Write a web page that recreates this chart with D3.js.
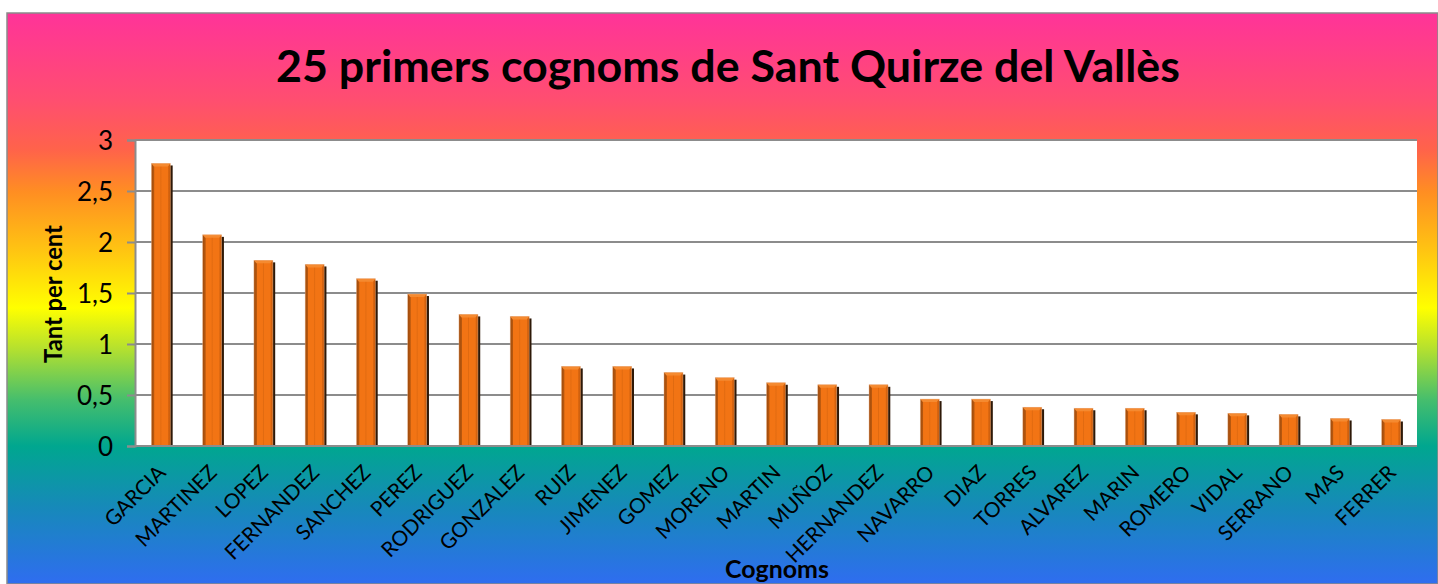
<!DOCTYPE html>
<html><head><meta charset="utf-8">
<script src="https://cdn.jsdelivr.net/npm/d3@7/dist/d3.min.js"></script>
<style>html,body{margin:0;padding:0;background:#fff;}svg{display:block;}</style>
</head><body>
<script>
const categories = ["GARCIA","MARTINEZ","LOPEZ","FERNANDEZ","SANCHEZ","PEREZ","RODRIGUEZ","GONZALEZ","RUIZ","JIMENEZ","GOMEZ","MORENO","MARTIN","MUÑOZ","HERNANDEZ","NAVARRO","DIAZ","TORRES","ALVAREZ","MARIN","ROMERO","VIDAL","SERRANO","MAS","FERRER"];
const values = [2.77,2.07,1.82,1.78,1.64,1.49,1.29,1.27,0.78,0.78,0.72,0.67,0.62,0.60,0.60,0.46,0.46,0.38,0.37,0.37,0.33,0.32,0.31,0.27,0.26];
const yTicks = [0,0.5,1,1.5,2,2.5,3];
const yTickLabels = ["0","0,5","1","1,5","2","2,5","3"];
const title = "25 primers cognoms de Sant Quirze del Vallès";
const yTitle = "Tant per cent";
const xTitle = "Cognoms";

const W = 1438, H = 584;
const FONT = "Lato, 'Open Sans', sans-serif";
const svg = d3.select("body").append("svg").attr("width", W).attr("height", H);
const defs = svg.append("defs");

function fit(sel, base, target) {
  sel.attr("font-size", base);
  const w = sel.node().getComputedTextLength();
  sel.attr("font-size", base * target / w);
  return base * target / w;
}

// background gradient
const bg = defs.append("linearGradient").attr("id","bg").attr("gradientUnits","userSpaceOnUse")
  .attr("x1",0).attr("y1",13).attr("x2",0).attr("y2",584);
const stops = [[13,"#FF3399"],[100,"#FF4E70"],[150,"#FF634A"],[192,"#FF8E22"],[250,"#FFC412"],[308,"#FFFF00"],[348,"#B6E12E"],[400,"#45BE6D"],[446,"#00A78F"],[505,"#168AB8"],[584,"#2F6DF0"]];
stops.forEach(([y,c]) => bg.append("stop").attr("offset", ((y-13)/(584-13))).attr("stop-color", c));

// bar body gradient (horizontal bevel)
const bb = defs.append("linearGradient").attr("id","barg").attr("x1",0).attr("x2",1).attr("y1",0).attr("y2",0);
[[0,"#9E4A0C"],[0.14,"#B8580E"],[0.17,"#F27414"],[0.45,"#F27414"],[0.5,"#E06A10"],[0.55,"#F27414"],[0.86,"#F27414"],[0.9,"#D8650F"],[1,"#C85C0E"]]
  .forEach(([o,c]) => bb.append("stop").attr("offset",o).attr("stop-color",c));

svg.append("rect").attr("x",7).attr("y",13).attr("width",W-7).attr("height",H-13)
  .attr("fill","url(#bg)").attr("stroke","#8a8a8a").attr("stroke-width",1.5);

const m = {left:135, right:1417, top:140, bottom:446};
const x = d3.scaleBand().domain(categories).range([m.left, m.right]).paddingInner(0.63).paddingOuter(0.32);
const y = d3.scaleLinear().domain([0,3]).range([m.bottom, m.top]);

svg.append("rect").attr("x",m.left).attr("y",m.top).attr("width",m.right-m.left).attr("height",m.bottom-m.top).attr("fill","#fff");

// gridlines
svg.append("g").selectAll("line").data(yTicks.slice(1)).join("line")
  .attr("x1",m.left).attr("x2",m.right).attr("y1",d=>y(d)).attr("y2",d=>y(d))
  .attr("stroke","#8c8c8c").attr("stroke-width",2);

// y axis
const yAxis = d3.axisLeft(y).tickValues(yTicks).tickFormat((d,i)=>yTickLabels[i]).tickSize(8).tickPadding(14);
const ga = svg.append("g").attr("transform",`translate(${m.left},0)`).call(yAxis);
ga.select(".domain").attr("stroke","#8c8c8c").attr("stroke-width",2);
ga.selectAll(".tick line").attr("stroke","#8c8c8c").attr("stroke-width",2);
ga.selectAll(".tick text").attr("font-family",FONT).attr("font-size",26).attr("fill","#000").attr("dy","0.36em");

// bars
const bars = svg.append("g");
const bw = x.bandwidth();
categories.forEach((c,i) => {
  const x0 = x(c), y0 = y(values[i]), h = m.bottom - y0;
  bars.append("rect").attr("x",x0+bw-0.5).attr("y",y0+2).attr("width",2.8).attr("height",h-2).attr("fill","#2E1908");
  bars.append("rect").attr("x",x0).attr("y",y0).attr("width",bw).attr("height",h).attr("fill","url(#barg)");
  bars.append("polygon").attr("points",`${x0},${y0} ${x0+bw},${y0} ${x0+bw-2.5},${y0+3} ${x0+2.5},${y0+3}`).attr("fill","#F58A30");
  bars.append("rect").attr("x",x0).attr("y",y0).attr("width",bw).attr("height",h).attr("fill","none").attr("stroke","#E9B48A").attr("stroke-width",0.6).attr("stroke-opacity",0.7);
});

// x axis line
svg.append("line").attr("x1",m.left).attr("x2",m.right).attr("y1",m.bottom).attr("y2",m.bottom).attr("stroke","#8c8c8c").attr("stroke-width",2);

// x labels
const probe = svg.append("text").attr("font-family",FONT).text("GARCIA");
const xfs = fit(probe, 20, 76);
probe.remove();
svg.append("g").selectAll("text").data(categories).join("text")
  .attr("transform",d=>`translate(${x(d)+bw/2+6},${m.bottom+28}) rotate(-45)`)
  .attr("text-anchor","end").attr("font-family",FONT).attr("font-size",xfs).attr("fill","#000")
  .text(d=>d);

// titles
const t = svg.append("text").attr("x",728).attr("y",82).attr("text-anchor","middle")
  .attr("font-family",FONT).attr("font-weight","bold").attr("fill","#000").text(title);
fit(t, 40, 904);

const xt = svg.append("text").attr("x",777).attr("y",578).attr("text-anchor","middle")
  .attr("font-family",FONT).attr("font-weight","bold").attr("fill","#000").text(xTitle);
fit(xt, 24, 104);

const yt = svg.append("text").attr("transform","translate(62,294) rotate(-90)").attr("text-anchor","middle")
  .attr("font-family",FONT).attr("font-weight","bold").attr("fill","#000").text(yTitle);
fit(yt, 22, 138);
</script>
</body></html>
